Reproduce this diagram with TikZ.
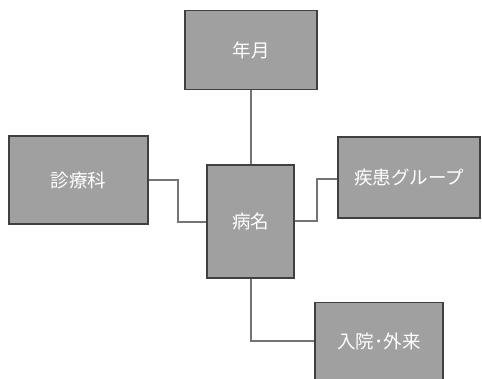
\documentclass[tikz,border=0pt]{standalone}
\usepackage{fontspec}
\newfontfamily\jp{Noto Sans CJK JP}
\definecolor{boxfill}{HTML}{A0A0A0}
\definecolor{boxline}{HTML}{404040}
\definecolor{linkcol}{HTML}{747474}
\begin{document}
\begin{tikzpicture}[x=1pt,y=-1pt,
  lbl/.style={text=white,font=\jp\fontsize{18.5}{20}\selectfont},
  entity/.style={draw=boxline,fill=boxfill,line width=1.4pt,inner sep=0pt,lbl},
  link/.style={draw=linkcol,line width=1.8pt}]
\useasboundingbox (0,0) rectangle (482,378);
\clip (0,0) rectangle (482,378);
% boxes
\node[entity,minimum width=132pt,minimum height=79pt] (ym) at (251,50) {年月};
\node[entity,minimum width=139pt,minimum height=88pt] (sk) at (78.5,180) {診療科};
\node[entity,minimum width=87pt,minimum height=113pt] (bm) at (250.5,221.5) {病名};
\node[entity,minimum width=142pt,minimum height=81pt] (sg) at (409,177.5) {疾患グループ};
\node[entity,minimum width=128pt,minimum height=78pt,anchor=north] (nk) at (379,302) {};
\node[lbl] (nkt) at (379,341) {入院･外来};
% connectors
\coordinate (c1) at (178,180);
\coordinate (c2) at (178,222);
\coordinate (c3) at (317,221);
\coordinate (c4) at (317,179);
\coordinate (c5) at (251,341);
\draw[link] (ym.south) -- (bm.north -| ym.south);
\draw[link] (sk.east |- c1) -- (c1) -- (c2) -- (bm.west |- c2);
\draw[link] (bm.east |- c3) -- (c3) -- (c4) -- (sg.west |- c4);
\draw[link] (bm.south -| c5) -- (c5) -- (nk.west |- c5);
\end{tikzpicture}
\end{document}
